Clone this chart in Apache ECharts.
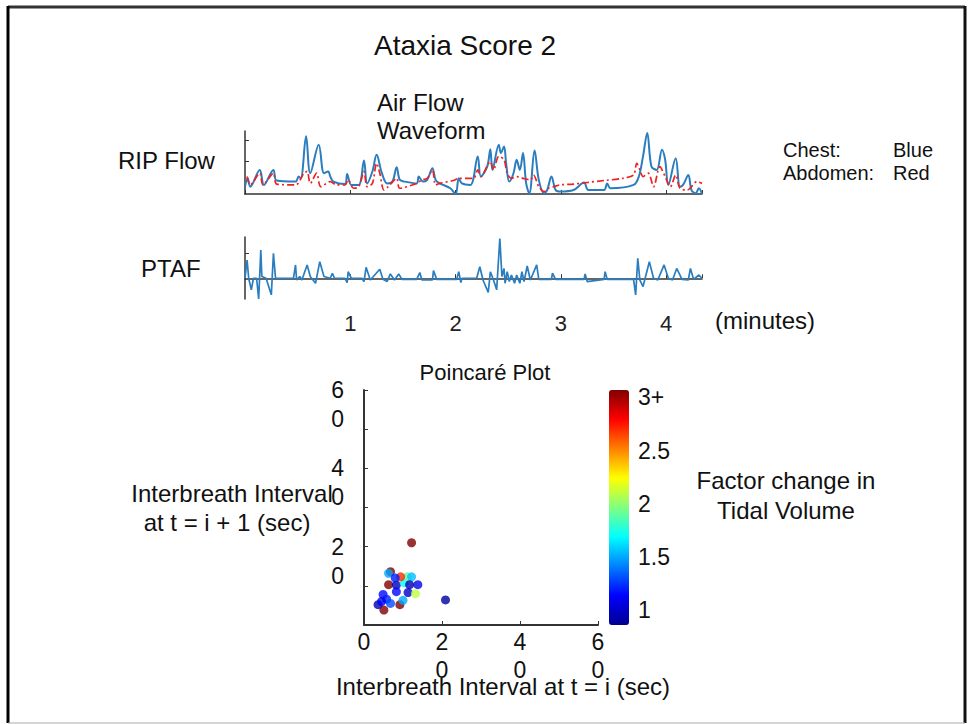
<!DOCTYPE html>
<html>
<head>
<meta charset="utf-8">
<script src="https://cdn.jsdelivr.net/npm/echarts@6/dist/echarts.min.js"></script>
<style>
  html, body { margin: 0; padding: 0; background: #fff; }
  #chart { width: 969px; height: 724px; }
</style>
</head>
<body>
<div id="chart"></div>
<script>
// RIP flow, chest (blue), time in minutes
const chestT = [0, 0.025, 0.05, 0.14, 0.18, 0.27, 0.30, 0.48, 0.51, 0.53, 0.58, 0.62, 0.70, 0.75, 0.79, 0.81, 0.84, 0.95, 0.97, 1.01,
    1.08, 1.13, 1.16, 1.21, 1.25, 1.30, 1.35, 1.40, 1.44, 1.47, 1.52, 1.63, 1.65, 1.69, 1.73, 1.78, 1.81, 1.85, 1.95, 2.00,
    2.03, 2.06, 2.14, 2.21, 2.24, 2.30, 2.33, 2.35, 2.41, 2.43, 2.46, 2.48, 2.51, 2.55, 2.58, 2.61, 2.64, 2.67, 2.70, 2.75,
    2.79, 2.84, 2.87, 2.91, 2.95, 2.99, 3.12, 3.22, 3.26, 3.41, 3.44, 3.47, 3.69, 3.74, 3.78, 3.82, 3.86, 3.91, 3.96, 3.99,
    4.02, 4.09, 4.13, 4.16, 4.21, 4.24, 4.28, 4.31, 4.34];
const chestV = [0.33, 0.71, 0.33, 1.09, 0.41, 1.09, 0.61, 0.56, 0.79, 0.71, 2.61, 0.94, 2.23, 0.94, 1.02, 0.79, 0.56, 0.45, 0.91, 0.41,
    0.41, 1.52, 0.48, 1.02, 1.77, 0.94, 0.48, 0.56, 1.21, 0.64, 0.56, 0.48, 0.79, 0.56, 0.64, 1.17, 0.64, 0.48, 0.26, 0.0,
    0.71, 0.48, 0.41, 1.70, 0.79, 1.24, 2.03, 1.09, 2.23, 1.85, 2.15, 1.39, 0.56, 0.94, 1.55, 1.09, 1.85, 0.48, 0.03, 1.97,
    0.64, 0.03, 0.18, 0.79, 0.18, 0.11, 0.18, 0.52, 0.18, 0.18, 0.48, 0.26, 0.41, 0.79, 1.70, 2.76, 1.24, 1.09, 2.00, 1.55,
    0.41, 1.62, 0.33, 0.41, 0.86, 0.18, 0.03, 0.26, 0.0];

// RIP flow, abdomen (red)
const abdT = [0.02, 0.05, 0.14, 0.17, 0.27, 0.30, 0.48, 0.56, 0.59, 0.62, 0.68, 0.72, 0.81, 0.87, 0.95, 0.98, 1.03, 1.08, 1.13, 1.16,
    1.21, 1.25, 1.28, 1.32, 1.36, 1.44, 1.47, 1.63, 1.68, 1.73, 1.78, 1.81, 1.85, 1.98, 2.03, 2.17, 2.21, 2.24, 2.33, 2.36,
    2.41, 2.46, 2.49, 2.53, 2.58, 2.64, 2.71, 2.74, 2.79, 2.84, 2.88, 2.93, 2.99, 3.12, 3.25, 3.41, 3.59, 3.69, 3.72, 3.75,
    3.78, 3.83, 3.88, 3.94, 3.99, 4.04, 4.09, 4.13, 4.20, 4.24, 4.29, 4.34];
const abdV = [0.79, 0.41, 0.94, 0.41, 0.94, 0.45, 0.41, 0.94, 1.02, 0.48, 0.94, 0.33, 0.56, 0.41, 0.41, 0.64, 0.26, 0.33, 1.02, 0.33,
    0.48, 1.39, 0.94, 0.18, 0.33, 0.71, 0.26, 0.48, 0.64, 0.71, 1.09, 0.41, 0.48, 0.61, 0.71, 0.71, 1.09, 0.79, 1.47, 1.09,
    1.70, 1.55, 0.94, 0.71, 0.79, 0.71, 0.64, 0.86, 0.33, 0.11, 0.26, 0.33, 0.41, 0.45, 0.52, 0.61, 0.71, 0.86, 1.39, 1.09,
    0.79, 0.94, 0.33, 1.24, 0.79, 0.33, 0.86, 0.26, 0.18, 0.33, 0.56, 0.48];

// PTAF
const ptafT = [0, 0.02, 0.035, 0.06, 0.08, 0.11, 0.13, 0.15, 0.16, 0.20, 0.25, 0.27, 0.29, 0.46, 0.48, 0.49, 0.52, 0.54, 0.59, 0.62,
    0.67, 0.71, 0.75, 0.81, 0.83, 0.85, 0.95, 0.97, 0.98, 1.01, 1.11, 1.13, 1.15, 1.19, 1.28, 1.31, 1.35, 1.38, 1.42, 1.46,
    1.49, 1.63, 1.66, 1.68, 1.78, 1.79, 1.82, 2.01, 2.03, 2.05, 2.06, 2.20, 2.23, 2.26, 2.31, 2.33, 2.36, 2.39, 2.42, 2.44,
    2.46, 2.47, 2.49, 2.51, 2.53, 2.56, 2.58, 2.61, 2.63, 2.65, 2.68, 2.71, 2.77, 2.79, 2.91, 2.92, 2.95, 3.22, 3.23, 3.25,
    3.41, 3.42, 3.44, 3.69, 3.71, 3.73, 3.75, 3.78, 3.84, 3.88, 3.92, 3.98, 4.02, 4.06, 4.10, 4.15, 4.21, 4.23, 4.26, 4.31, 4.34];
const ptafV = [0, 0.83, 0, -0.53, 0, 0, -0.95, 1.29, 0.08, 0, -0.76, 1.14, 0, 0, 0.61, -0.08, 0.08, -0.08, 0.61, 0.08,
    -0.23, 0.76, 0.08, 0, 0.23, 0, 0, -0.2, 0.30, 0, 0, -0.15, 0.5, -0.08, 0.41, -0.05, -0.15, 0.2, -0.08, 0.2,
    -0.05, -0.05, 0.26, -0.08, -0.08, 0.35, -0.05, -0.05, 0.30, -0.2, 0, 0, 0.53, -0.08, -0.65, 0.30, -0.08, -0.53, 1.82, 0.08,
    0.45, -0.23, 0.30, -0.15, 0.15, -0.23, 0.15, -0.23, 0.30, -0.15, 0.56, -0.08, 0.61, -0.05, -0.05, 0.23, -0.05, -0.05, 0.2, -0.15,
    -0.05, 0.30, -0.05, -0.05, -0.76, 0.91, -0.08, -0.38, 0.76, 0, -0.08, 0.61, 0, -0.08, 0.45, -0.05, -0.08, 0.45, -0.05, 0.15, 0];

// Poincare plot: interval at t = i, interval at t = i + 1, factor change in tidal volume
const ibiNow  = [12.2, 20.9, 5.1, 3.6, 4.9, 5.8, 6.8, 9.2, 10.0, 6.3, 6.8, 6.3, 8.3, 8.3, 10.3, 11.1, 9.4, 12.2, 13.8, 11.7, 11.3, 13.2, 8.0, 4.5];
const ibiNext = [21.0, 6.4, 3.8, 5.2, 7.8, 6.6, 5.5, 5.2, 6.3, 10.3, 13.6, 13.2, 10.2, 8.5, 10.8, 12.3, 12.3, 12.3, 10.3, 10.3, 8.3, 8.0, 12.0, 6.0];
const tvFactor = [3.07, 0.9, 3.07, 0.95, 1.15, 1.2, 1.3, 3.07, 1.5, 3.07, 3.07, 1.5, 0.95, 1.15, 1.7, 1.9, 2.7, 1.55, 1.1, 0.95, 1.0, 2.1, 1.2, 1.1];

const colorTicks = [1, 1.5, 2, 2.5, 3];

const FONT = 'Liberation Sans, Arial, sans-serif';
const AXIS = { lineStyle: { color: '#333', width: 1.5 } };
const zip = (a, b) => a.map((v, i) => [v, b[i]]);

const jet = ['#00008f', '#0000ff', '#0080ff', '#00ffff', '#80ff80', '#ffff00', '#ff8000', '#ff0000', '#800000'];

const txt = (x, y, text, size, align) => ({
    type: 'text', x: x, y: y,
    style: { text: text, fontSize: size, fontFamily: FONT, fill: '#111', align: align || 'left', verticalAlign: 'middle' }
});

const timeAxis = (gridIndex, labels) => ({
    type: 'value', gridIndex: gridIndex, min: 0, max: 4.34, interval: 1,
    axisLine: AXIS,
    axisTick: { inside: true, length: 4, lineStyle: { color: '#333' } },
    axisLabel: {
        show: labels, showMinLabel: false, margin: 13, fontSize: 22, color: '#222', fontFamily: FONT,
        formatter: v => (Number.isInteger(v) ? String(v) : '')
    },
    splitLine: { show: false }
});

const splitDigits = v => String(v).split('').join('\n');

const option = {
    animation: false,
    backgroundColor: '#fff',
    grid: [
        { left: 245, top: 131, width: 457, height: 63 },
        { left: 245, top: 237, width: 457, height: 62 },
        { left: 364, top: 390, width: 234, height: 235 },
        { left: 609, top: 390, width: 20, height: 235 }
    ],
    xAxis: [
        timeAxis(0, false),
        timeAxis(1, true),
        {
            type: 'value', gridIndex: 2, min: 0, max: 60, interval: 20,
            axisLine: { lineStyle: { color: '#333', width: 2 } },
            axisTick: { inside: true, length: 4, lineStyle: { color: '#333' } },
            axisLabel: { margin: 3, fontSize: 23, lineHeight: 28, color: '#111', fontFamily: FONT, formatter: splitDigits },
            splitLine: { show: false }
        },
        { type: 'value', gridIndex: 3, show: false, min: 0, max: 1 }
    ],
    yAxis: [
        {
            type: 'value', gridIndex: 0, min: 0, max: 2.85,
            axisLine: AXIS,
            axisTick: { inside: true, length: 4, customValues: [1.47, 2.45], lineStyle: { color: '#333' } },
            axisLabel: { show: false }, splitLine: { show: false }
        },
        {
            type: 'value', gridIndex: 1, min: -0.95, max: 1.89,
            axisLine: AXIS,
            axisTick: { inside: true, length: 4, customValues: [1.14], lineStyle: { color: '#333' } },
            axisLabel: { show: false }, splitLine: { show: false }
        },
        {
            type: 'value', gridIndex: 2, min: 0, max: 60, interval: 10,
            axisLine: { lineStyle: { color: '#333', width: 2 } },
            axisTick: { inside: true, length: 4, lineStyle: { color: '#333' } },
            axisLabel: {
                margin: 20, fontSize: 23, lineHeight: 29, color: '#111', fontFamily: FONT, verticalAlign: 'middle',
                formatter: v => (v > 0 && v % 20 === 0 ? '\n' + splitDigits(v) : '')
            },
            splitLine: { show: false }
        },
        {
            type: 'value', gridIndex: 3, position: 'right', min: 0.86, max: 3.07,
            axisLine: { show: false }, axisTick: { show: false }, splitLine: { show: false },
            axisLabel: {
                customValues: colorTicks, margin: 9, fontSize: 23, color: '#111', fontFamily: FONT,
                formatter: v => (v === 3 ? '3+' : String(v))
            }
        }
    ],
    visualMap: {
        type: 'continuous', seriesIndex: 3, dimension: 2, min: 0.86, max: 3.07,
        left: 609, top: 390, itemWidth: 20, itemHeight: 235, padding: 0,
        calculable: false, hoverLink: false, text: null,
        inRange: { color: jet }
    },
    series: [
        {
            name: 'Chest', type: 'line', xAxisIndex: 0, yAxisIndex: 0, data: zip(chestT, chestV),
            symbol: 'none', smooth: 0.35, lineStyle: { color: '#2a7dbf', width: 2 }, z: 2
        },
        {
            name: 'Abdomen', type: 'line', xAxisIndex: 0, yAxisIndex: 0, data: zip(abdT, abdV),
            symbol: 'none', smooth: 0.3, lineStyle: { color: '#ee2222', width: 1.7, type: [7, 3, 2, 3] }, z: 3
        },
        {
            name: 'PTAF', type: 'line', xAxisIndex: 1, yAxisIndex: 1, data: zip(ptafT, ptafV),
            symbol: 'none', lineStyle: { color: '#2a7dbf', width: 1.7 }
        },
        {
            name: 'Poincare', type: 'scatter', xAxisIndex: 2, yAxisIndex: 2,
            data: ibiNow.map((x, i) => [x, ibiNext[i], tvFactor[i]]),
            symbolSize: 9
        }
    ],
    graphic: [
        // slide frame
        { type: 'line', shape: { x1: 8, y1: 7, x2: 965, y2: 7 }, style: { stroke: '#333', lineWidth: 3 } },
        { type: 'line', shape: { x1: 8, y1: 6, x2: 8, y2: 723 }, style: { stroke: '#000', lineWidth: 3 } },
        { type: 'line', shape: { x1: 965, y1: 6, x2: 965, y2: 723 }, style: { stroke: '#111', lineWidth: 3 } },
        { type: 'line', shape: { x1: 8, y1: 723, x2: 965, y2: 723 }, style: { stroke: '#aaa', lineWidth: 1 } },
        txt(465, 45, 'Ataxia Score 2', 28, 'center'),
        txt(377, 102, 'Air Flow', 24),
        txt(377, 130, 'Waveform', 24),
        txt(118, 160, 'RIP Flow', 24),
        txt(141, 268, 'PTAF', 24),
        txt(783, 150, 'Chest:', 20),
        txt(893, 150, 'Blue', 20),
        txt(783, 173, 'Abdomen:', 20),
        txt(893, 173, 'Red', 20),
        txt(715, 320, '(minutes)', 24),
        txt(485, 372, 'Poincaré Plot', 22, 'center'),
        txt(232, 493, 'Interbreath Interval', 24, 'center'),
        txt(227, 522, 'at t = i + 1 (sec)', 24, 'center'),
        txt(786, 480, 'Factor change in', 24, 'center'),
        txt(786, 510, 'Tidal Volume', 24, 'center'),
        txt(503, 686, 'Interbreath Interval at t = i (sec)', 24, 'center')
    ]
};

const chart = echarts.init(document.getElementById('chart'), null, { renderer: 'svg' });
chart.setOption(option);
</script>
</body>
</html>
